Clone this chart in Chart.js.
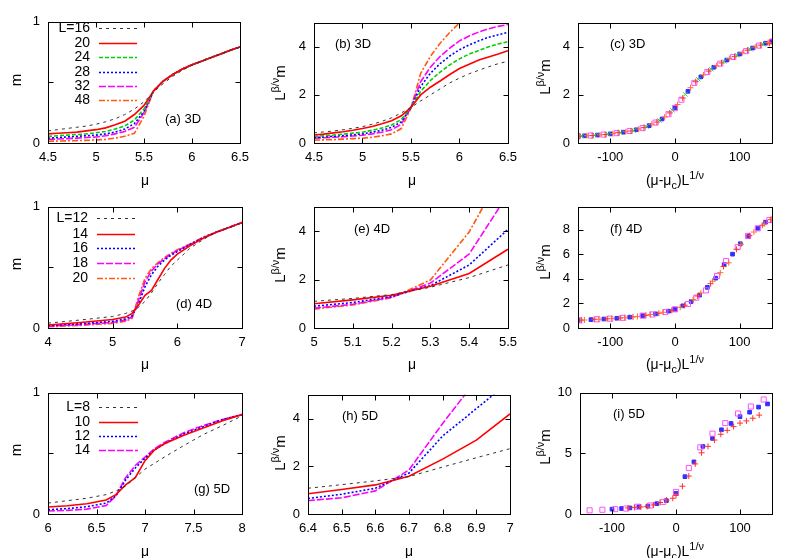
<!DOCTYPE html>
<html><head><meta charset="utf-8">
<script src="https://cdn.jsdelivr.net/npm/chart.js@4"></script>
<style>
body{margin:0;background:#fff;width:797px;height:558px;position:relative;overflow:hidden;font-family:'Liberation Sans',Arial,Helvetica,sans-serif;color:#000}
canvas{position:absolute}
.lbl{position:absolute;font-size:14px;white-space:nowrap;transform:translate(-50%,-50%);line-height:1}
.rot{transform:translate(-50%,-50%) rotate(-90deg);font-size:15px}
.pl{position:absolute;font-size:13px;white-space:nowrap;transform:translate(0,-50%);line-height:1}
sup,sub{font-size:11px;line-height:0}
</style></head><body>
<script>
// ---------------- DATA ----------------
// (a) m vs mu, 3D
const a_mu  = [4.5,4.6,4.7,4.8,4.9,5.0,5.1,5.2,5.3,5.4,5.5,5.6,5.7,5.8,5.9,6.0,6.1,6.2,6.3,6.4,6.5];
const a_L16 = [0.10,0.11,0.12,0.13,0.14,0.155,0.175,0.20,0.235,0.28,0.34,0.42,0.49,0.55,0.60,0.64,0.675,0.705,0.735,0.765,0.79];
const a_L20 = [0.075,0.08,0.085,0.09,0.10,0.11,0.125,0.15,0.18,0.235,0.31,0.43,0.51,0.565,0.61,0.645,0.675,0.705,0.735,0.765,0.793];
const a_L24 = [0.055,0.06,0.065,0.07,0.075,0.085,0.095,0.115,0.14,0.19,0.28,0.43,0.51,0.565,0.61,0.645,0.675,0.705,0.735,0.765,0.793];
const a_L28 = [0.04,0.045,0.05,0.055,0.06,0.065,0.075,0.09,0.115,0.16,0.26,0.43,0.51,0.565,0.61,0.645,0.675,0.705,0.735,0.765,0.793];
const a_L32 = [0.03,0.033,0.036,0.04,0.045,0.05,0.06,0.075,0.095,0.13,0.25,0.43,0.51,0.565,0.61,0.645,0.675,0.705,0.735,0.765,0.793];
const a_L48 = [0.015,0.016,0.018,0.02,0.022,0.025,0.03,0.04,0.055,0.08,0.22,0.43,0.51,0.565,0.61,0.645,0.675,0.705,0.735,0.765,0.793];
// (b) L^{b/v} m vs mu, 3D
const b_mu  = [4.5,4.6,4.7,4.8,4.9,5.0,5.1,5.2,5.3,5.4,5.5,5.6,5.7,5.8,5.9,6.0,6.1,6.2,6.3,6.4,6.5];
const b_L16 = [0.42,0.46,0.5,0.55,0.61,0.68,0.78,0.9,1.05,1.25,1.48,1.75,2.0,2.25,2.5,2.7,2.88,3.03,3.17,3.3,3.4];
const b_L20 = [0.33,0.37,0.42,0.47,0.53,0.6,0.69,0.8,0.93,1.13,1.48,2.0,2.32,2.58,2.85,3.1,3.28,3.45,3.58,3.7,3.84];
const b_L24 = [0.27,0.3,0.33,0.37,0.41,0.45,0.53,0.62,0.75,0.98,1.48,2.15,2.6,2.95,3.25,3.5,3.7,3.85,4.0,4.12,4.22];
const b_L28 = [0.22,0.25,0.28,0.31,0.34,0.38,0.45,0.53,0.65,0.88,1.48,2.35,2.9,3.3,3.62,3.88,4.08,4.25,4.4,4.5,4.6];
const b_L32 = [0.2,0.22,0.24,0.26,0.29,0.32,0.38,0.45,0.55,0.78,1.48,2.55,3.15,3.6,3.95,4.25,4.45,4.62,4.75,4.85,4.93];
const b_L48 = [0.12,0.13,0.14,0.16,0.18,0.2,0.24,0.3,0.38,0.6,1.45,2.9,3.6,4.15,4.6,5.0,5.35,5.7,6.0,6.3,6.5];
// (c) collapse, 3D
const c_red_x = [-148,-128,-108,-88,-68,-48,-28,-8,12,32,52,72,92,112,132,146];
const c_red_y = [0.28,0.31,0.35,0.43,0.5,0.64,0.87,1.25,1.87,2.55,2.99,3.33,3.59,3.86,4.07,4.15];
const c_grn_x = [-144,-124,-104,-84,-64,-44,-24,-4,16,36,56,76,96,116,136];
const c_grn_y = [0.29,0.32,0.37,0.43,0.52,0.68,0.94,1.36,2.02,2.65,3.07,3.39,3.65,3.9,4.11];
const c_blu_x = [-140,-120,-100,-80,-60,-40,-20,0,20,40,60,80,100,120,140,150];
const c_blu_y = [0.3,0.33,0.38,0.45,0.55,0.72,1.0,1.47,2.15,2.75,3.15,3.45,3.7,3.95,4.15,4.22];
const c_mag_x = [-150,-130,-110,-90,-70,-50,-30,-10,0,10,30,50,70,90,110,130,150];
const c_mag_y = [0.28,0.31,0.35,0.41,0.5,0.62,0.85,1.2,1.45,1.8,2.5,2.95,3.3,3.58,3.82,4.05,4.22];
const c_org_x = [-136,-116,-96,-76,-56,-36,-16,4,24,44,64,84,104,124,144];
const c_org_y = [0.305,0.34,0.39,0.47,0.58,0.78,1.08,1.6,2.3,2.83,3.21,3.51,3.75,3.99,4.18];
// (d) m vs mu, 4D
const d_mu  = [4.0,4.5,5.0,5.2,5.3,5.4,5.5,5.6,5.7,5.8,5.9,6.0,6.2,6.4,6.6,6.8,7.0];
const d_L12 = [0.04,0.066,0.095,0.12,0.14,0.17,0.22,0.29,0.37,0.44,0.51,0.56,0.66,0.73,0.79,0.83,0.87];
const d_L14 = [0.025,0.045,0.07,0.09,0.12,0.19,0.27,0.31,0.4,0.49,0.56,0.61,0.68,0.74,0.79,0.83,0.87];
const d_L16 = [0.02,0.035,0.055,0.075,0.1,0.2,0.34,0.44,0.51,0.56,0.6,0.63,0.69,0.745,0.79,0.83,0.87];
const d_L18 = [0.015,0.028,0.045,0.065,0.09,0.23,0.38,0.47,0.53,0.57,0.61,0.64,0.69,0.745,0.79,0.83,0.87];
const d_L20 = [0.01,0.022,0.038,0.055,0.08,0.26,0.41,0.49,0.54,0.58,0.615,0.645,0.695,0.75,0.79,0.83,0.87];
// (e) L^{b/v} m vs mu, 4D
const e_mu  = [5.0,5.1,5.2,5.3,5.4,5.5];
const e_L12 = [1.1,1.22,1.38,1.68,2.08,2.6];
const e_L14 = [1.0,1.16,1.35,1.72,2.25,3.25];
const e_L16 = [0.9,1.05,1.3,1.75,2.6,4.07];
const e_L18 = [0.82,0.98,1.27,1.85,3.05,5.52];
const e_L20 = [0.78,0.95,1.25,1.98,3.96,6.85];
// (f) collapse, 4D
const f_red_x = [-145,-125,-105,-85,-65,-45,-25,-5,15,35,55,75,95,115,135,148];
const f_red_y = [0.64,0.7,0.75,0.81,0.9,1.03,1.2,1.43,1.85,2.6,3.6,5.0,6.4,7.5,8.35,8.8];
const f_blu_x = [-150,-130,-110,-90,-70,-50,-30,-10,0,12,25,38,50,63,76,89,101,114,128,140];
const f_blu_y = [0.62,0.68,0.73,0.79,0.88,1.0,1.15,1.37,1.52,1.8,2.15,2.67,3.3,4.05,5.15,6.0,6.85,7.45,8.1,8.6];
const f_mag_x = [-148,-120,-100,-80,-50,-35,-15,0,20,33,48,65,79,97,113,128,146];
const f_mag_y = [0.62,0.71,0.76,0.83,1.0,1.1,1.3,1.52,1.95,2.47,3.06,4.23,5.45,6.57,7.48,8.1,8.78];
const f_org_x = [-140,-118,-98,-78,-58,-38,-18,8,28,40,58,70,83,102,122,138,150];
const f_org_y = [0.65,0.71,0.77,0.84,0.94,1.1,1.28,1.68,2.3,2.85,3.8,4.5,5.3,6.8,7.8,8.45,8.85];
// (g) m vs mu, 5D
const g_mu  = [6.0,6.2,6.4,6.6,6.7,6.8,6.9,7.0,7.1,7.2,7.4,7.6,7.8,8.0];
const g_L8  = [0.09,0.11,0.13,0.16,0.19,0.23,0.3,0.37,0.42,0.47,0.565,0.655,0.73,0.81];
const g_L10 = [0.058,0.068,0.085,0.115,0.16,0.24,0.3,0.44,0.53,0.58,0.65,0.71,0.77,0.82];
const g_L12 = [0.035,0.045,0.06,0.09,0.15,0.28,0.38,0.46,0.53,0.58,0.66,0.72,0.78,0.82];
const g_L14 = [0.025,0.03,0.04,0.07,0.15,0.3,0.4,0.47,0.54,0.59,0.67,0.73,0.78,0.82];
// (h) L^{b/v} m vs mu, 5D
const h_mu  = [6.4,6.5,6.6,6.7,6.8,6.9,7.0];
const h_L8  = [1.08,1.23,1.39,1.57,1.97,2.36,2.74];
const h_L10 = [0.85,1.03,1.22,1.58,2.3,3.1,4.2];
const h_L12 = [0.65,0.83,1.08,1.72,3.27,4.42,5.58];
const h_L14 = [0.56,0.68,0.97,1.85,3.8,5.62,7.4];
// (i) collapse, 5D
const i_mag_x = [-135,-115,-95,-78,-60,-40,-20,0,20,38,57,77,97,117,137];
const i_mag_y = [0.3,0.35,0.4,0.45,0.6,0.7,1.0,1.82,3.79,5.5,6.63,7.5,8.29,8.87,9.45];
const i_blu_x = [-100,-85,-72,-58,-44,-30,-15,0,14,28,42,57,71,86,100,115,129,143];
const i_blu_y = [0.4,0.45,0.5,0.6,0.65,0.85,1.1,1.7,3.08,4.3,5.58,6.24,6.95,7.47,8.03,8.4,8.82,9.08];
const i_red_x = [-75,-65,-55,-45,-35,-25,-15,-5,0,10,20,30,40,50,60,70,80,90,100,110,120,130];
const i_red_y = [0.5,0.55,0.58,0.62,0.75,0.95,1.15,1.3,1.55,2.29,3.13,4.13,5.05,5.58,6.1,6.58,6.9,7.21,7.5,7.68,7.9,8.16];

// tick values and labels
const tk_a_x = [4.5,5,5.5,6,6.5], tl_a_x = ['4.5','5','5.5','6','6.5'];
const tk_m_y = [0,0.5,1],        tl_m_y = ['0','','1'];
const tk_L5_y = [0,2,4],         tl_L5_y = ['0','2','4'];
const tk_s_x = [-100,0,100],     tl_s_x = ['-100','0','100'];
const tk_d_x = [4,5,6,7],        tl_d_x = ['4','5','6','7'];
const tk_e_x = [5,5.1,5.2,5.3,5.4,5.5], tl_e_x = ['5','5.1','5.2','5.3','5.4','5.5'];
const tk_f_y = [0,2,4,6,8],      tl_f_y = ['0','2','4','6','8'];
const tk_g_x = [6,6.5,7,7.5,8],  tl_g_x = ['6','6.5','7','7.5','8'];
const tk_h_x = [6.4,6.5,6.6,6.7,6.8,6.9,7], tl_h_x = ['6.4','6.5','6.6','6.7','6.8','6.9','7'];
const tk_i_y = [0,5,10],         tl_i_y = ['0','5','10'];

// legend labels
const leg3D = ['L=16','20','24','28','32','48'];
const leg4D = ['L=12','14','16','18','20'];
const leg5D = ['L=8','10','12','14'];

// ---------------- RENDER ----------------
const FONT = "'Liberation Sans', Arial, Helvetica, sans-serif";
const ST = {
  black:   {borderColor:'#333333', borderWidth:1,   borderDash:[3,4]},
  red:     {borderColor:'#ff0000', borderWidth:1.6, borderDash:[]},
  green:   {borderColor:'#00d000', borderWidth:1.6, borderDash:[4,2]},
  blue:    {borderColor:'#0000ff', borderWidth:1.6, borderDash:[2,2]},
  magenta: {borderColor:'#ff00ff', borderWidth:1.6, borderDash:[7,2]},
  orange:  {borderColor:'#ff5a14', borderWidth:1.6, borderDash:[6,2,2,2]}
};
const zip = (xs, ys) => xs.map((x, k) => ({x, y: ys[k]}));
const line = (xs, ys, st) => Object.assign({data: zip(xs, ys), showLine: true, pointRadius: 0, fill: false, tension: 0}, ST[st]);
const PTS = {
  red:     {pointStyle:'cross',    pointRadius:3,   pointBorderColor:'#ff3030', pointBackgroundColor:'#ff3030', pointBorderWidth:1},
  green:   {pointStyle:'crossRot', pointRadius:3,   pointBorderColor:'#30d030', pointBackgroundColor:'#30d030', pointBorderWidth:1},
  blue:    {pointStyle:'rect',     pointRadius:2.6, pointBorderColor:'#3030ff', pointBackgroundColor:'#3030ff', pointBorderWidth:1},
  magenta: {pointStyle:'rect',     pointRadius:3.6, pointBorderColor:'#ff50ff', pointBackgroundColor:'rgba(0,0,0,0)', pointBorderWidth:1},
  orange:  {pointStyle:'cross',    pointRadius:3,   pointBorderColor:'#ff7030', pointBackgroundColor:'#ff7030', pointBorderWidth:1}
};
const pts = (xs, ys, st) => Object.assign({data: zip(xs, ys), showLine: false}, PTS[st]);

const framePlugin = {
  id: 'frame',
  afterDraw(chart) {
    const {ctx, chartArea: a, scales} = chart;
    const L = Math.round(a.left) + 0.5, R = Math.round(a.right) + 0.5, T = Math.round(a.top) + 0.5, B = Math.round(a.bottom) + 0.5;
    ctx.save();
    ctx.strokeStyle = '#000'; ctx.lineWidth = 1; ctx.setLineDash([]);
    ctx.strokeRect(L, T, R - L, B - T);
    const tl = 5;
    ctx.beginPath();
    scales.x.ticks.forEach(t => {
      const p = Math.round(scales.x.getPixelForValue(t.value)) + 0.5;
      ctx.moveTo(p, B); ctx.lineTo(p, B - tl);
      ctx.moveTo(p, T); ctx.lineTo(p, T + tl);
    });
    scales.y.ticks.forEach(t => {
      const p = Math.round(scales.y.getPixelForValue(t.value)) + 0.5;
      ctx.moveTo(L, p); ctx.lineTo(L + tl, p);
      ctx.moveTo(R, p); ctx.lineTo(R - tl, p);
    });
    ctx.stroke();
    ctx.restore();
  }
};
const legPlugin = {
  id: 'gleg',
  afterDraw(chart, args, o) {
    if (!o || !o.items) return;
    const ctx = chart.ctx;
    ctx.save();
    ctx.font = '14px ' + FONT; ctx.textAlign = 'right'; ctx.textBaseline = 'middle'; ctx.fillStyle = '#000';
    o.items.forEach((txt, k) => {
      const y = Math.round(o.ys[k] - o.oy) + 0.5;
      ctx.fillText(txt, o.tx - o.ox, y);
      const ds = chart.data.datasets[k];
      ctx.strokeStyle = ds.borderColor; ctx.lineWidth = ds.borderWidth; ctx.setLineDash(ds.borderDash || []);
      ctx.beginPath(); ctx.moveTo(o.s1 - o.ox, y); ctx.lineTo(o.s2 - o.ox, y); ctx.stroke();
    });
    ctx.restore();
  }
};

function panel(rect, xr, yr, xt, xl, yt, yl, datasets, legend) {
  const [L, T, R, B] = rect;
  const ML = 44, MT = 10, MR = 14, MB = 32;
  const cv = document.createElement('canvas');
  const w = R - L + ML + MR, h = B - T + MT + MB;
  cv.width = w; cv.height = h;
  cv.style.left = (L - ML) + 'px'; cv.style.top = (T - MT) + 'px';
  cv.style.width = w + 'px'; cv.style.height = h + 'px';
  document.body.appendChild(cv);
  const tickFont = {family: FONT, size: 13};
  new Chart(cv, {
    type: 'scatter',
    data: {datasets},
    options: {
      responsive: false, animation: false, devicePixelRatio: 1,
      layout: {padding: {left: 0, top: MT, right: MR, bottom: 0}},
      plugins: {legend: {display: false}, tooltip: {enabled: false},
        gleg: legend ? Object.assign({ox: L - ML, oy: T - MT}, legend) : {}},
      scales: {
        x: {type: 'linear', min: xr[0], max: xr[1],
          afterFit: s => { s.height = MB; },
          afterBuildTicks: s => { s.ticks = xt.map(v => ({value: v})); },
          ticks: {autoSkip: false, maxRotation: 0, minRotation: 0, padding: 7, color: '#000', font: tickFont,
            callback: (v, k) => xl[k]},
          grid: {display: false, drawTicks: false}, border: {display: false}},
        y: {type: 'linear', min: yr[0], max: yr[1],
          afterFit: s => { s.width = ML; },
          afterBuildTicks: s => { s.ticks = yt.map(v => ({value: v})); },
          ticks: {autoSkip: false, padding: 8, color: '#000', font: tickFont,
            callback: (v, k) => yl[k]},
          grid: {display: false, drawTicks: false}, border: {display: false}}
      }
    },
    plugins: [framePlugin, legPlugin]
  });
}

// Row 1 (3D)
panel([48,16,242,143], [4.5,6.5], [0,1], tk_a_x, tl_a_x, tk_m_y, tl_m_y, [
  line(a_mu,a_L16,'black'), line(a_mu,a_L20,'red'), line(a_mu,a_L24,'green'),
  line(a_mu,a_L28,'blue'), line(a_mu,a_L32,'magenta'), line(a_mu,a_L48,'orange')
], {items: leg3D, tx: 90, s1: 99, s2: 137, ys: [28,43,57,72,86,100]});
panel([314,17,510,143], [4.5,6.5], [0,5], tk_a_x, tl_a_x, tk_L5_y, tl_L5_y, [
  line(b_mu,b_L16,'black'), line(b_mu,b_L20,'red'), line(b_mu,b_L24,'green'),
  line(b_mu,b_L28,'blue'), line(b_mu,b_L32,'magenta'), line(b_mu,b_L48,'orange')
]);
panel([578,17,772,143], [-150,150], [0,5], tk_s_x, tl_s_x, tk_L5_y, tl_L5_y, [
  pts(c_grn_x,c_grn_y,'green'), pts(c_org_x,c_org_y,'orange'), pts(c_red_x,c_red_y,'red'),
  pts(c_mag_x,c_mag_y,'magenta'), pts(c_blu_x,c_blu_y,'blue')
]);
// Row 2 (4D)
panel([48,201,242,328], [4,7], [0,1], tk_d_x, tl_d_x, tk_m_y, tl_m_y, [
  line(d_mu,d_L12,'black'), line(d_mu,d_L14,'red'), line(d_mu,d_L16,'blue'),
  line(d_mu,d_L18,'magenta'), line(d_mu,d_L20,'orange')
], {items: leg4D, tx: 88, s1: 97, s2: 135, ys: [218,234,248,263,278]});
panel([314,201,510,328], [5,5.5], [0,5], tk_e_x, tl_e_x, tk_L5_y, tl_L5_y, [
  line(e_mu,e_L12,'black'), line(e_mu,e_L14,'red'), line(e_mu,e_L16,'blue'),
  line(e_mu,e_L18,'magenta'), line(e_mu,e_L20,'orange')
]);
panel([578,201,772,328], [-150,150], [0,9.85], tk_s_x, tl_s_x, tk_f_y, tl_f_y, [
  pts(f_org_x,f_org_y,'orange'), pts(f_red_x,f_red_y,'red'),
  pts(f_mag_x,f_mag_y,'magenta'), pts(f_blu_x,f_blu_y,'blue')
]);
// Row 3 (5D)
panel([48,387,242,514], [6,8], [0,1], tk_g_x, tl_g_x, tk_m_y, tl_m_y, [
  line(g_mu,g_L8,'black'), line(g_mu,g_L10,'red'), line(g_mu,g_L12,'blue'), line(g_mu,g_L14,'magenta')
], {items: leg5D, tx: 90, s1: 99, s2: 138, ys: [407,422,436,450]});
panel([308,389,510,514], [6.4,7], [0,5], tk_h_x, tl_h_x, tk_L5_y, tl_L5_y, [
  line(h_mu,h_L8,'black'), line(h_mu,h_L10,'red'), line(h_mu,h_L12,'blue'), line(h_mu,h_L14,'magenta')
]);
panel([580,387,772,514], [-150,150], [0,10], tk_s_x, tl_s_x, tk_i_y, tl_i_y, [
  pts(i_red_x,i_red_y,'red'), pts(i_mag_x,i_mag_y,'magenta'), pts(i_blu_x,i_blu_y,'blue')
]);

// ---------------- TEXT OVERLAYS ----------------
function txt(html, x, y, cls) {
  const d = document.createElement('div');
  d.className = cls; d.innerHTML = html;
  d.style.left = x + 'px'; d.style.top = y + 'px';
  document.body.appendChild(d);
}
const MU = 'μ', LBM = 'L<sup>β/ν</sup>m', SX = '(μ-μ<sub>c</sub>)L<sup>1/ν</sup>';
[[180, 80, 83, 77], [364, 264, 265, 262], [551, 450, 453, 447]].forEach(([xy, y1, y2, y3], r) => {
  txt(MU, 145, xy, 'lbl');
  txt(MU, r === 2 ? 409 : 412, xy, 'lbl');
  txt(SX, 675, xy, 'lbl');
  txt('m', 15, y1, 'lbl rot');
  txt(LBM, 279, y2, 'lbl rot');
  txt(LBM, 544, y3, 'lbl rot');
});
const panelLabels = [['(a) 3D',165,118],['(b) 3D',335,43],['(c) 3D',610,43],
  ['(d) 4D',176,303],['(e) 4D',354,228],['(f) 4D',610,228],
  ['(g) 5D',194,488],['(h) 5D',342,415],['(i) 5D',613,413]];
panelLabels.forEach(([t, x, y]) => txt(t, x, y, 'pl'));
</script>
</body></html>
